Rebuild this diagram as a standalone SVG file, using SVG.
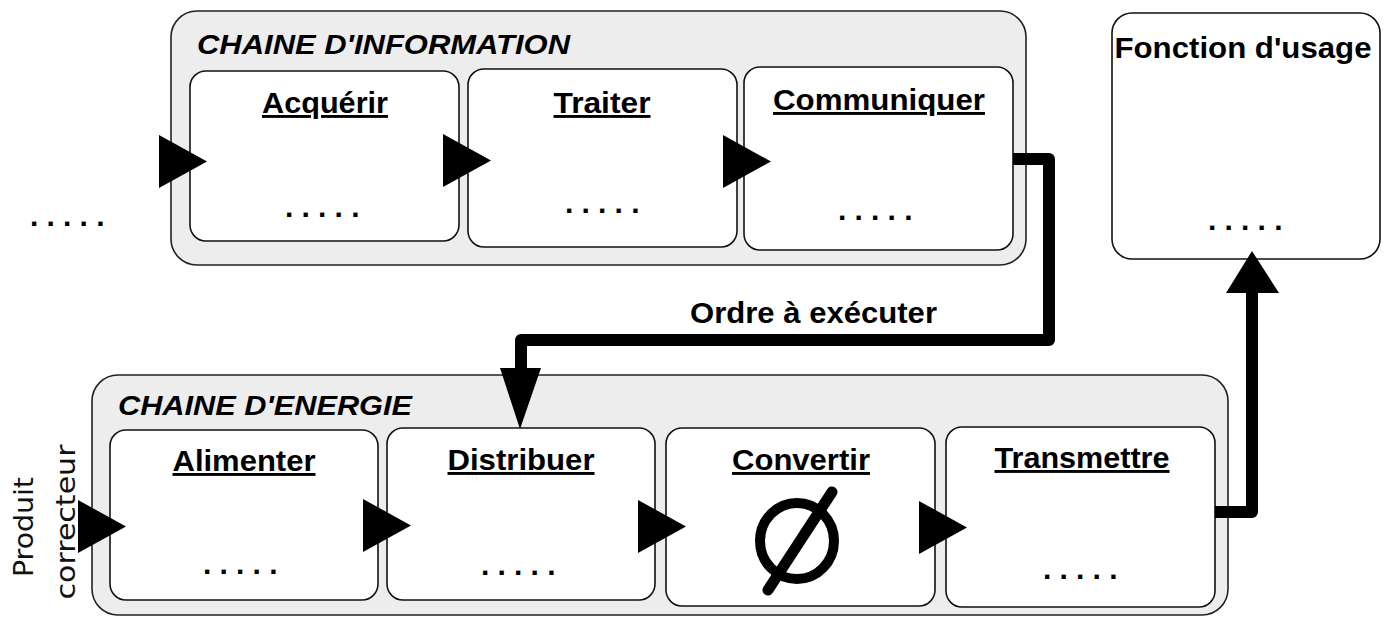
<svg xmlns="http://www.w3.org/2000/svg" width="1391" height="617" viewBox="0 0 1391 617">
<defs>
<style>
.grp{fill:#ededed;stroke:#222;stroke-width:1.6}
.box{fill:#fff;stroke:#111;stroke-width:1.6}
.lbl{font-family:"Liberation Sans",Arial,sans-serif;font-weight:bold;font-size:29px;fill:#000;text-anchor:middle;text-decoration:underline}
.ttl{font-family:"Liberation Sans",Arial,sans-serif;font-weight:bold;font-style:italic;font-size:28px;fill:#000}
.plain{font-family:"Liberation Sans",Arial,sans-serif;font-weight:bold;font-size:29px;fill:#000}
.dots{font-family:"Liberation Sans",Arial,sans-serif;font-weight:bold;font-size:30px;fill:#000;letter-spacing:8.2px}
.side{font-family:"DejaVu Sans",sans-serif;font-size:27px;fill:#111;text-anchor:middle}
.wire{fill:none;stroke:#000;stroke-width:12;stroke-linejoin:round}
.head{fill:#000}
</style>
<polygon id="tri" points="0,0 48,26.5 0,53"/>
</defs>

<g id="chaine-information">
<rect class="grp" x="171" y="11" width="855" height="254" rx="26"/>
<text class="ttl" x="197" y="54" textLength="373" lengthAdjust="spacingAndGlyphs">CHAINE D'INFORMATION</text>
</g>
<g id="acquerir">
<rect class="box" x="190" y="71" width="269" height="170" rx="16"/>
<text class="lbl" x="325" y="113" textLength="126" lengthAdjust="spacingAndGlyphs">Acquérir</text>
<text class="dots" x="285" y="217">.....</text>
</g>
<g id="traiter">
<rect class="box" x="468" y="69" width="269" height="178" rx="16"/>
<text class="lbl" x="602" y="113" textLength="97" lengthAdjust="spacingAndGlyphs">Traiter</text>
<text class="dots" x="565" y="213">.....</text>
</g>
<g id="communiquer">
<rect class="box" x="744" y="67" width="269" height="183" rx="16"/>
<text class="lbl" x="879" y="110" textLength="212" lengthAdjust="spacingAndGlyphs">Communiquer</text>
<text class="dots" x="838" y="220">.....</text>
</g>
<g id="entree">
<text class="dots" x="30" y="226">.....</text>
</g>
<g id="fonction-usage">
<rect class="box" x="1112" y="13" width="268" height="246" rx="20"/>
<text class="plain" x="1243" y="58" text-anchor="middle" textLength="257" lengthAdjust="spacingAndGlyphs">Fonction d'usage</text>
<text class="dots" x="1208" y="230">.....</text>
</g>

<g id="chaine-energie">
<rect class="grp" x="92" y="375" width="1136" height="240" rx="26"/>
<text class="ttl" x="118" y="415" textLength="294" lengthAdjust="spacingAndGlyphs">CHAINE D'ENERGIE</text>
</g>
<g id="alimenter">
<rect class="box" x="110" y="430" width="268" height="170" rx="16"/>
<text class="lbl" x="244" y="471" textLength="143" lengthAdjust="spacingAndGlyphs">Alimenter</text>
<text class="dots" x="203" y="574">.....</text>
</g>
<g id="distribuer">
<rect class="box" x="387" y="428" width="268" height="172" rx="16"/>
<text class="lbl" x="521" y="470" textLength="147" lengthAdjust="spacingAndGlyphs">Distribuer</text>
<text class="dots" x="481" y="575">.....</text>
</g>
<g id="convertir">
<rect class="box" x="666" y="428" width="269" height="178" rx="16"/>
<text class="lbl" x="801" y="470" textLength="138" lengthAdjust="spacingAndGlyphs">Convertir</text>
<ellipse cx="797" cy="541" rx="37" ry="38" fill="none" stroke="#000" stroke-width="10"/>
<line x1="768" y1="590" x2="832" y2="492" stroke="#000" stroke-width="11" stroke-linecap="round"/>
</g>
<g id="transmettre">
<rect class="box" x="946" y="427" width="269" height="180" rx="16"/>
<text class="lbl" x="1082" y="468" textLength="175" lengthAdjust="spacingAndGlyphs">Transmettre</text>
<text class="dots" x="1043" y="579">.....</text>
</g>
<g id="produit-correcteur">
<text class="side" transform="translate(33,527) rotate(-90)" textLength="100" lengthAdjust="spacingAndGlyphs">Produit</text>
<text class="side" transform="translate(75,522) rotate(-90)" textLength="155" lengthAdjust="spacingAndGlyphs">correcteur</text>
</g>

<g id="connectors">
<use href="#tri" class="head" x="159" y="135"/>
<use href="#tri" class="head" x="443" y="134"/>
<use href="#tri" class="head" x="723" y="135"/>
<use href="#tri" class="head" x="78" y="500"/>
<use href="#tri" class="head" x="363" y="499"/>
<use href="#tri" class="head" x="638" y="500"/>
<use href="#tri" class="head" x="919" y="501"/>
<path class="wire" d="M1013,159 H1049 V340 H521 V372"/>
<polygon class="head" points="500,368 541,368 520,429"/>
<text class="plain" x="690" y="323" textLength="247" lengthAdjust="spacingAndGlyphs">Ordre à exécuter</text>
<path class="wire" d="M1215,512 H1252 V290"/>
<polygon class="head" points="1226,293 1279,293 1252,251"/>
</g>
</svg>
